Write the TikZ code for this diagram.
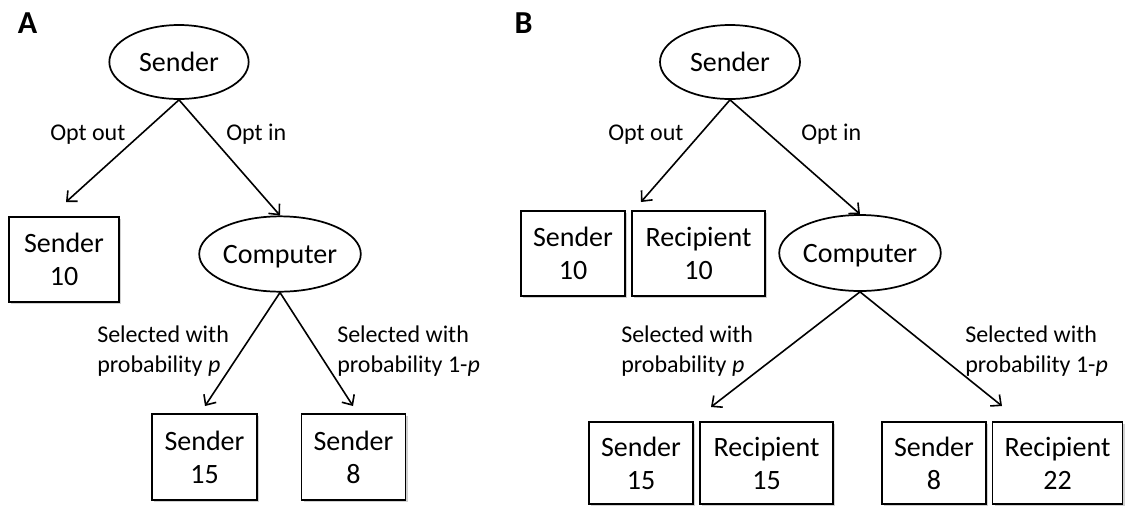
\documentclass[tikz,border=0pt]{standalone}
\usepackage{fontspec}
\setmainfont{Carlito}
\usetikzlibrary{arrows.meta,shapes.geometric,shadows}
\tikzset{
  nodefont/.style={font=\fontsize{21}{24.75}\selectfont},
  ell/.style={draw, ellipse, line width=1.3pt, inner sep=0pt, nodefont, text depth=0pt},
  pay/.style={draw, rectangle, line width=1.3pt, inner sep=0pt, align=center, nodefont, fill=white,
    drop shadow={shadow xshift=1.5pt, shadow yshift=-1.5pt, fill=black, opacity=0.18}},
  lab/.style={anchor=base west, inner sep=0pt, font=\fontsize{18}{22.5}\selectfont},
  lab2/.style={anchor=west, inner sep=0pt, align=left, font=\fontsize{18}{22.5}\selectfont},
  arr/.style={-{Straight Barb[length=6pt,width=11pt]}, line width=1.2pt},
  panel/.style={inner sep=0pt, anchor=base, font=\fontsize{24}{28}\selectfont\bfseries}
}
\begin{document}
\begin{tikzpicture}[x=0.75pt,y=-0.75pt]
\useasboundingbox (0,0) rectangle (1128,508);
% ---------- Panel A ----------
\node[panel] (pA) at (27.5,33.5) {A};
\node[ell, minimum width=104.5pt, minimum height=55.5pt] (SA) at (179,62) {Sender};
\node[ell, minimum width=106.5pt, minimum height=56.5pt] (CA) at (280,254) {Computer};
\node[pay, minimum width=82.5pt, minimum height=63.75pt] (sA10) at (64,259.5) {Sender\\10};
\node[pay, minimum width=78.5pt, minimum height=64.5pt] (sA15) at (204.5,457) {Sender\\15};
\node[pay, minimum width=78pt, minimum height=64.5pt] (sA8) at (353.5,457) {Sender\\8};
\coordinate (eAout) at (66,202);
\coordinate (eAp) at (205,406);
\coordinate (eAq) at (353,406);
\draw[arr] (SA.south) -- (eAout);
\draw[arr] (SA.south) -- (CA.north);
\draw[arr] (CA.south) -- (eAp);
\draw[arr] (CA.south) -- (eAq);
\node[lab] (lAout) at (50,140) {Opt out};
\node[lab] (lAin) at (226,140) {Opt in};
\node[lab2] (lAp) at (97,351) {Selected with\\probability \textit{p}};
\node[lab2] (lAq) at (337,351) {Selected with\\probability 1-\textit{p}};
% ---------- Panel B ----------
\node[panel] (pB) at (523.5,33.5) {B};
\node[ell, minimum width=105pt, minimum height=55.5pt] (SB) at (730,62) {Sender};
\node[ell, minimum width=105.75pt, minimum height=57pt] (CB) at (860,253) {Computer};
\node[pay, minimum width=78pt, minimum height=63.75pt] (sB10) at (573,253.5) {Sender\\10};
\node[pay, minimum width=99.75pt, minimum height=63.75pt] (rB10) at (698.5,253.5) {Recipient\\10};
\node[pay, minimum width=78pt, minimum height=61.5pt] (sB15) at (641,463) {Sender\\15};
\node[pay, minimum width=99.75pt, minimum height=61.5pt] (rB15) at (766.5,463) {Recipient\\15};
\node[pay, minimum width=78pt, minimum height=61.5pt] (sB8) at (934,463) {Sender\\8};
\node[pay, minimum width=97.5pt, minimum height=61.5pt] (rB22) at (1057.5,463) {Recipient\\22};
\coordinate (eBout) at (641,202);
\coordinate (eBp) at (711,407);
\coordinate (eBq) at (1002,406);
\draw[arr] (SB.south) -- (eBout);
\draw[arr] (SB.south) -- (CB.north);
\draw[arr] (CB.south) -- (eBp);
\draw[arr] (CB.south) -- (eBq);
\node[lab] (lBout) at (608,140) {Opt out};
\node[lab] (lBin) at (801,140) {Opt in};
\node[lab2] (lBp) at (621,351) {Selected with\\probability \textit{p}};
\node[lab2] (lBq) at (965,351) {Selected with\\probability 1-\textit{p}};
\end{tikzpicture}
\end{document}
